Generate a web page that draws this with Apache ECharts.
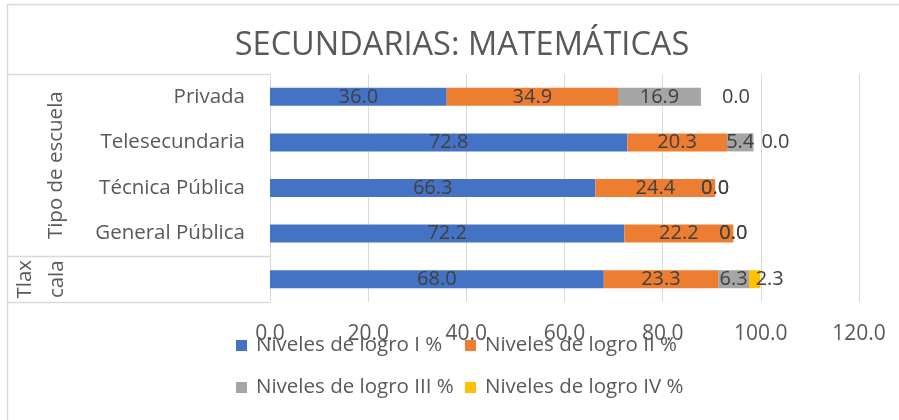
<!DOCTYPE html>
<html>
<head>
<meta charset="utf-8">
<script src="https://cdn.jsdelivr.net/npm/echarts@6/dist/echarts.min.js"></script>
<style>
  html, body { margin: 0; background: #fff; }
  #main { width: 899px; height: 420px; }
</style>
</head>
<body>
<div id="main"></div>
<script>
  // categories, top to bottom (the last row belongs to the "Tlaxcala" group)
  const categories = ['Privada', 'Telesecundaria', 'Técnica Pública', 'General Pública', ''];
  const groupNames = ['Tipo de escuela', 'Tlax\ncala'];
  const seriesNames = ['Niveles de logro I %', 'Niveles de logro II %', 'Niveles de logro III %', 'Niveles de logro IV %'];
  const nivel1 = [36.0, 72.8, 66.3, 72.2, 68.0];
  const nivel2 = [34.9, 20.3, 24.4, 22.2, 23.3];
  const nivel3 = [16.9, 5.4, 0.0, 0.0, 6.3];
  const nivel4 = [0.0, 0.0, 0.0, 0.0, 2.3];
  const xMin = 0, xMax = 120, xStep = 20;

  const colors = ['#4472C4', '#ED7D31', '#A5A5A5', '#FFC000'];
  // Excel pushed the level IV labels to the right of the bar end
  const nivel4LabelShift = [35, 22, 0, 0, 15];
  const font = 'Open Sans';
  const grey = '#595959';

  const chart = echarts.init(document.getElementById('main'));

  function barSeries(name, values, color, shifts) {
    return {
      name: name,
      type: 'bar',
      stack: 'total',
      barWidth: 18,
      itemStyle: { color: color },
      label: {
        show: true,
        position: 'inside',
        formatter: p => Number(p.value).toFixed(1),
        color: '#404040',
        fontFamily: font,
        fontSize: 20,
        textBorderWidth: 0
      },
      data: values.map((v, i) => shifts ? { value: v, label: { offset: [shifts[i], 0] } } : v)
    };
  }

  // fixed width text so both legend rows line up in two columns
  function legendRow(names, topPx) {
    return {
      data: names,
      left: 231, top: topPx,
      itemWidth: 11, itemHeight: 11, itemGap: 10,
      icon: 'rect',
      formatter: '{n|{name}}',
      textStyle: {
        rich: {
          n: {
            color: grey, fontFamily: font, fontSize: 20.5,
            lineHeight: 22, width: 199, padding: [0, 0, 0, 4]
          }
        }
      }
    };
  }

  chart.setOption({
    backgroundColor: '#fff',
    animation: false,
    title: {
      text: 'SECUNDARIAS: MATEMÁTICAS',
      left: 457,
      top: 24,
      textAlign: 'center',
      textStyle: { color: grey, fontFamily: font, fontSize: 32.5, fontWeight: 'normal' }
    },
    legend: [
      legendRow(seriesNames.slice(0, 2), 330),
      legendRow(seriesNames.slice(2, 4), 372)
    ],
    grid: { left: 270, right: 40, top: 74, bottom: 118 },
    xAxis: {
      type: 'value',
      min: xMin, max: xMax, interval: xStep,
      axisLine: { show: false },
      axisTick: { show: false },
      splitLine: { lineStyle: { color: '#d9d9d9', width: 1 } },
      axisLabel: {
        formatter: v => v.toFixed(1),
        color: grey, fontFamily: font, fontSize: 21, margin: 22
      }
    },
    yAxis: {
      type: 'category',
      inverse: true,
      data: categories,
      axisLine: { show: true, lineStyle: { color: '#d9d9d9' } },
      axisTick: { show: false },
      axisLabel: { color: grey, fontFamily: font, fontSize: 20.5, margin: 25 }
    },
    series: [
      barSeries(seriesNames[0], nivel1, colors[0]),
      barSeries(seriesNames[1], nivel2, colors[1]),
      barSeries(seriesNames[2], nivel3, colors[2]),
      barSeries(seriesNames[3], nivel4, colors[3], nivel4LabelShift)
    ]
  });

  // multi-level category box drawn from the axis positions
  const yOf = i => chart.convertToPixel({ yAxisIndex: 0 }, i);
  const halfBand = (yOf(1) - yOf(0)) / 2;
  const x0 = chart.convertToPixel({ xAxisIndex: 0 }, 0);
  const boxTop = yOf(0) - halfBand;
  const boxSplit = yOf(3) + halfBand;
  const boxBottom = yOf(4) + halfBand;
  const boxLeft = 7.5;
  const lineStyle = { stroke: '#d9d9d9', lineWidth: 1.5 };
  const hline = y => ({
    type: 'line', silent: true,
    shape: { x1: boxLeft, y1: Math.round(y) + 0.5, x2: x0, y2: Math.round(y) + 0.5 },
    style: lineStyle
  });

  chart.setOption({
    graphic: [
      {
        type: 'rect', silent: true, z: -1,
        shape: { x: boxLeft, y: 4.5, width: 1000, height: 1000 },
        style: { fill: 'none', stroke: '#d9d9d9', lineWidth: 1.5 }
      },
      hline(boxTop),
      hline(boxSplit),
      hline(boxBottom),
      {
        type: 'text', silent: true,
        x: 56, y: (boxTop + boxSplit) / 2, rotation: Math.PI / 2,
        style: {
          text: groupNames[0], fill: grey, font: '20.5px "Open Sans"',
          align: 'center', verticalAlign: 'middle'
        }
      },
      {
        type: 'text', silent: true,
        x: 41, y: (boxSplit + boxBottom) / 2, rotation: Math.PI / 2,
        style: {
          text: groupNames[1], fill: grey, font: '20.5px "Open Sans"',
          lineHeight: 32, align: 'center', verticalAlign: 'middle'
        }
      }
    ]
  });
</script>
</body>
</html>
